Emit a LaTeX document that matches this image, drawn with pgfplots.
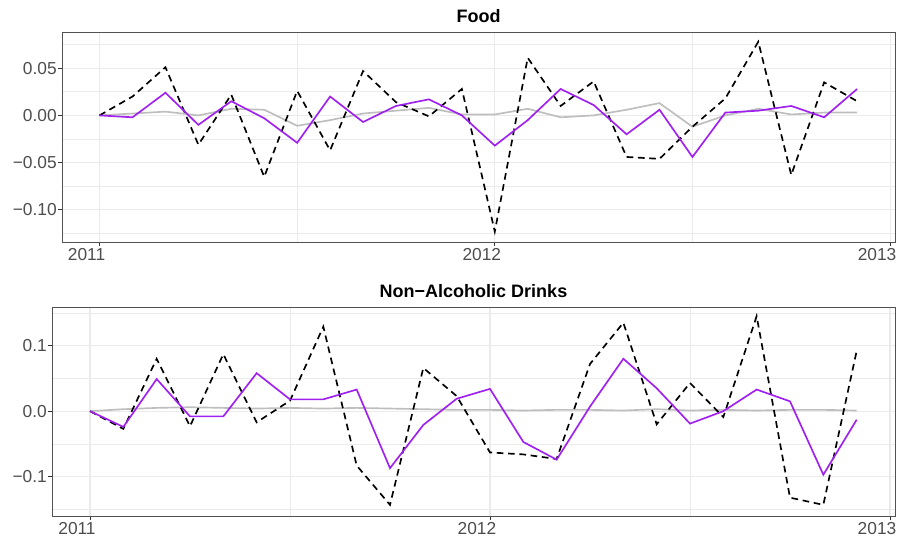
\documentclass[border=0pt]{standalone}
\usepackage{pgfplots}
\usepackage{pgfplotstable}
\pgfplotsset{compat=1.18}
\usepackage{fontspec}
\setmainfont{Liberation Sans}
\definecolor{rpurple}{HTML}{A020F0}
\definecolor{rgray}{HTML}{BEBEBE}
\definecolor{grid92}{HTML}{EBEBEB}
\definecolor{gray30}{HTML}{4D4D4D}
\definecolor{gray20}{HTML}{333333}

\pgfplotstableread{
x cpi pred base
0 0.000 0.000 0.000
1 0.020 -0.002 0.002
2 0.051 0.024 0.004
3 -0.031 -0.010 0.000
4 0.022 0.015 0.007
5 -0.065 -0.003 0.006
6 0.026 -0.029 -0.011
7 -0.037 0.020 -0.005
8 0.047 -0.007 0.002
9 0.014 0.010 0.005
10 -0.001 0.017 0.008
11 0.028 0.000 0.001
12 -0.123 -0.032 0.001
13 0.061 -0.005 0.007
14 0.010 0.028 -0.002
15 0.036 0.011 0.000
16 -0.044 -0.020 0.006
17 -0.046 0.006 0.013
18 -0.012 -0.044 -0.012
19 0.018 0.003 0.000
20 0.078 0.005 0.007
21 -0.063 0.010 0.001
22 0.035 -0.002 0.003
23 0.015 0.028 0.003
}\food

\pgfplotstableread{
x cpi pred base
0 0.000 0.000 0.000
1 -0.027 -0.024 0.003
2 0.080 0.049 0.005
3 -0.023 -0.008 0.006
4 0.087 -0.008 0.005
5 -0.017 0.058 0.004
6 0.016 0.018 0.005
7 0.129 0.018 0.004
8 -0.083 0.033 0.005
9 -0.143 -0.087 0.004
10 0.066 -0.021 0.003
11 0.023 0.019 0.002
12 -0.063 0.034 0.002
13 -0.066 -0.047 0.001
14 -0.073 -0.074 0.002
15 0.072 0.007 0.002
16 0.135 0.080 0.001
17 -0.020 0.035 0.003
18 0.043 -0.019 0.001
19 -0.009 0.000 0.002
20 0.145 0.033 0.001
21 -0.132 0.015 0.002
22 -0.143 -0.097 0.002
23 0.092 -0.013 0.001
}\drinks

\pgfplotsset{
  panel/.style={
    scale only axis,
    xmin=2010.905, xmax=2013.0125,
    xtick={2011,2012,2013},
    xticklabels={2011,2012,2013},
    minor xtick={2011.5,2012.5},
    grid=both,
    major grid style={color=grid92, line width=0.8pt},
    minor grid style={color=grid92, line width=0.45pt},
    axis line style={color=gray20!85, line width=0.6pt},
    tick style={color=gray20, line width=0.6pt},
    minor tick length=0pt,
    major tick length=3pt,
    tick align=outside,
    xtick pos=bottom, ytick pos=left,
    ticklabel style={font=\fontsize{13}{13}\selectfont, text=gray30, inner sep=0pt},
    yticklabel style={xshift=-0.75pt},
    xticklabel style={anchor=north, xshift=-9.75pt, yshift=-1.7pt},
    title style={at={(0.5,1)}, anchor=base, yshift=1.2pt, font=\bfseries\fontsize{13.5}{13.5}\selectfont},
    clip=true,
  },
  cpi/.style={black, line width=1.25pt, dash pattern=on 5pt off 3.5pt},
  pred/.style={rpurple, line width=1.25pt},
  base/.style={rgray, line width=1.25pt},
}

\begin{document}
\begin{tikzpicture}
\path[use as bounding box] (0,0) rectangle (675.75pt,404.25pt);
\begin{axis}[panel,
  at={(46.5pt,222.75pt)}, anchor=south west,
  width=624.75pt, height=157.5pt,
  ymin=-0.134, ymax=0.0883,
  ytick={-0.1,-0.05,0,0.05},
  yticklabels={−0.10,−0.05,0.00,0.05},
  minor ytick={-0.125,-0.075,-0.025,0.025,0.075},
  title={Food},
]
\addplot[base] table[x expr=2011+\thisrow{x}/12, y=base] {\food};
\addplot[cpi] table[x expr=2011+\thisrow{x}/12, y=cpi] {\food};
\addplot[pred] table[x expr=2011+\thisrow{x}/12, y=pred] {\food};
\end{axis}
\begin{axis}[panel,
  at={(39pt,17.25pt)}, anchor=south west,
  width=632.25pt, height=156.75pt,
  ymin=-0.160, ymax=0.159,
  ytick={-0.1,0,0.1},
  yticklabels={−0.1,0.0,0.1},
  minor ytick={-0.15,-0.05,0.05,0.15},
  title={Non−Alcoholic Drinks},
]
\addplot[base] table[x expr=2011+\thisrow{x}/12, y=base] {\drinks};
\addplot[cpi] table[x expr=2011+\thisrow{x}/12, y=cpi] {\drinks};
\addplot[pred] table[x expr=2011+\thisrow{x}/12, y=pred] {\drinks};
\end{axis}
\end{tikzpicture}
\end{document}
